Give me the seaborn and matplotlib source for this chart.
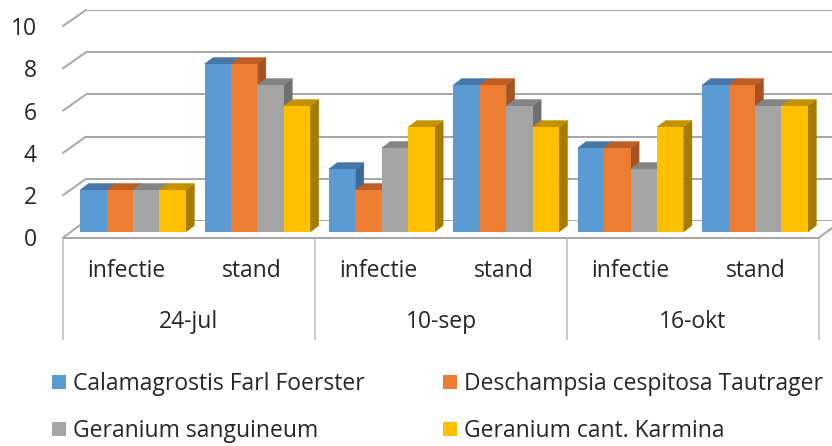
import matplotlib
matplotlib.use("Agg")
import matplotlib.pyplot as plt
from matplotlib.patches import Polygon
from matplotlib.lines import Line2D
import pandas as pd
import seaborn as sns

# ── data ─────────────────────────────────────────────────
dates = ["24-jul", "10-sep", "16-okt"]
kinds = ["infectie", "stand"]
series = ["Calamagrostis Farl Foerster", "Deschampsia cespitosa Tautrager",
          "Geranium sanguineum", "Geranium cant. Karmina"]
calamagrostis = [2, 8, 3, 7, 4, 7]
deschampsia = [2, 8, 2, 7, 4, 7]
sanguineum = [2, 7, 4, 6, 3, 6]
karmina = [2, 6, 5, 5, 5, 6]
yticks = [0, 2, 4, 6, 8, 10]

front_colors = ["#5B9BD5", "#ED7D31", "#A5A5A5", "#FFC000"]
top_colors = ["#4677A8", "#BF5E24", "#848484", "#C49200"]
side_colors = ["#3D6996", "#A65222", "#6F6F6F", "#A67C00"]
grid_color = "#A6A6A6"

categories = [f"{d} {k}" for d in dates for k in kinds]
rows = []
for name, vals in zip(series, [calamagrostis, deschampsia, sanguineum, karmina]):
    for cat, v in zip(categories, vals):
        rows.append({"category": cat, "series": name, "value": v})
df = pd.DataFrame(rows)

sns.set_style("white")
plt.rcParams["font.family"] = ["Open Sans", "DejaVu Sans"]
FS = 16.5

W, H = 832, 446


def rect(left, right, y0, y10):
    # axes box from pixel positions (y measured from the top)
    return [left / W, (H - y0) / H, (right - left) / W, (y0 - y10) / H]


fig = plt.figure(figsize=(W / 100, H / 100), dpi=100)
ax_back = fig.add_axes(rect(86, 842, 221, 10), zorder=0)
ax_front = fig.add_axes(rect(63, 819, 237.5, 26), zorder=1)
ax = fig.add_axes(rect(70.8, 817.2, 232, 22), zorder=2)

for a in (ax_back, ax_front, ax):
    a.set_xlim(-0.5, 5.5)
    a.set_ylim(0, 10)
    a.set_facecolor("none")
    for s in a.spines.values():
        s.set_visible(False)

# back wall gridlines
ax_back.set_xticks([])
ax_back.set_yticks(yticks)
ax_back.set_yticklabels([])
ax_back.tick_params(length=0)
ax_back.grid(axis="y", color=grid_color, lw=1.4)

# left wall + floor edges joining front and back planes
to_fig = fig.transFigure.inverted()
for v, x in [(v, -0.5) for v in yticks] + [(0, 5.5)]:
    p0 = to_fig.transform(ax_front.transData.transform((x, v)))
    p1 = to_fig.transform(ax_back.transData.transform((x, v)))
    fig.add_artist(Line2D([p0[0], p1[0]], [p0[1], p1[1]], color=grid_color,
                          lw=1.4, transform=fig.transFigure, zorder=0))

# front plane: floor edge, category axis, tick labels
ax_front.plot([-0.5, 5.5], [0, 0], color=grid_color, lw=1.4, clip_on=False)
ax_front.vlines([-0.5, 1.5, 3.5, 5.5], -4.85, 0, color="#BFBFBF", lw=1.2, clip_on=False)
for i, cat in enumerate(categories):
    ax_front.text(i, -1.58, kinds[i % 2], ha="center", va="center", fontsize=FS)
for j, d in enumerate(dates):
    ax_front.text(2 * j + 0.5, -4.0, d, ha="center", va="center", fontsize=FS)
ax_front.set_xticks([])
ax_front.set_yticks(yticks)
ax_front.tick_params(axis="y", length=0, pad=19, labelsize=FS)

# bars
sns.barplot(data=df, x="category", y="value", hue="series", order=categories,
            hue_order=series, palette=front_colors, saturation=1, width=0.85,
            gap=0, errorbar=None, linewidth=0, ax=ax)
handles, labels = ax.get_legend_handles_labels()
ax.get_legend().remove()
ax.set_xlim(-0.5, 5.5)
ax.set_ylim(0, 10)
ax.set_xlabel("")
ax.set_ylabel("")
ax.set_xticks([])
ax.set_yticks([])

# depth faces (top and right side) for a 3D look
bbox = ax.get_window_extent()
dx = 8.5 / (bbox.width / 6)
dy = 6.5 / (bbox.height / 10)
for j, cont in enumerate(ax.containers):
    for i, bar in enumerate(cont):
        x0, w, h = bar.get_x(), bar.get_width(), bar.get_height()
        z = 2 + (i * 4 + j) * 0.01
        bar.set_zorder(z + 0.005)
        top = Polygon([(x0, h), (x0 + dx, h + dy), (x0 + w + dx, h + dy), (x0 + w, h)],
                      closed=True, fc=top_colors[j], ec=top_colors[j], lw=0.3, zorder=z)
        side = Polygon([(x0 + w, 0), (x0 + w + dx, dy), (x0 + w + dx, h + dy), (x0 + w, h)],
                       closed=True, fc=side_colors[j], ec=side_colors[j], lw=0.3, zorder=z)
        ax.add_patch(side)
        ax.add_patch(top)

# legend in two columns
legend_kw = dict(loc="upper left", frameon=False, fontsize=FS, handlelength=0.61,
                 handleheight=0.57, handletextpad=0.31, labelspacing=1.02,
                 borderpad=0, borderaxespad=0)
fig.legend([handles[0], handles[2]], [labels[0], labels[2]],
           bbox_to_anchor=(52 / W, 1 - 372 / H), **legend_kw)
fig.legend([handles[1], handles[3]], [labels[1], labels[3]],
           bbox_to_anchor=(443 / W, 1 - 372 / H), **legend_kw)

fig.savefig("out.png", dpi=100)
plt.close(fig)
